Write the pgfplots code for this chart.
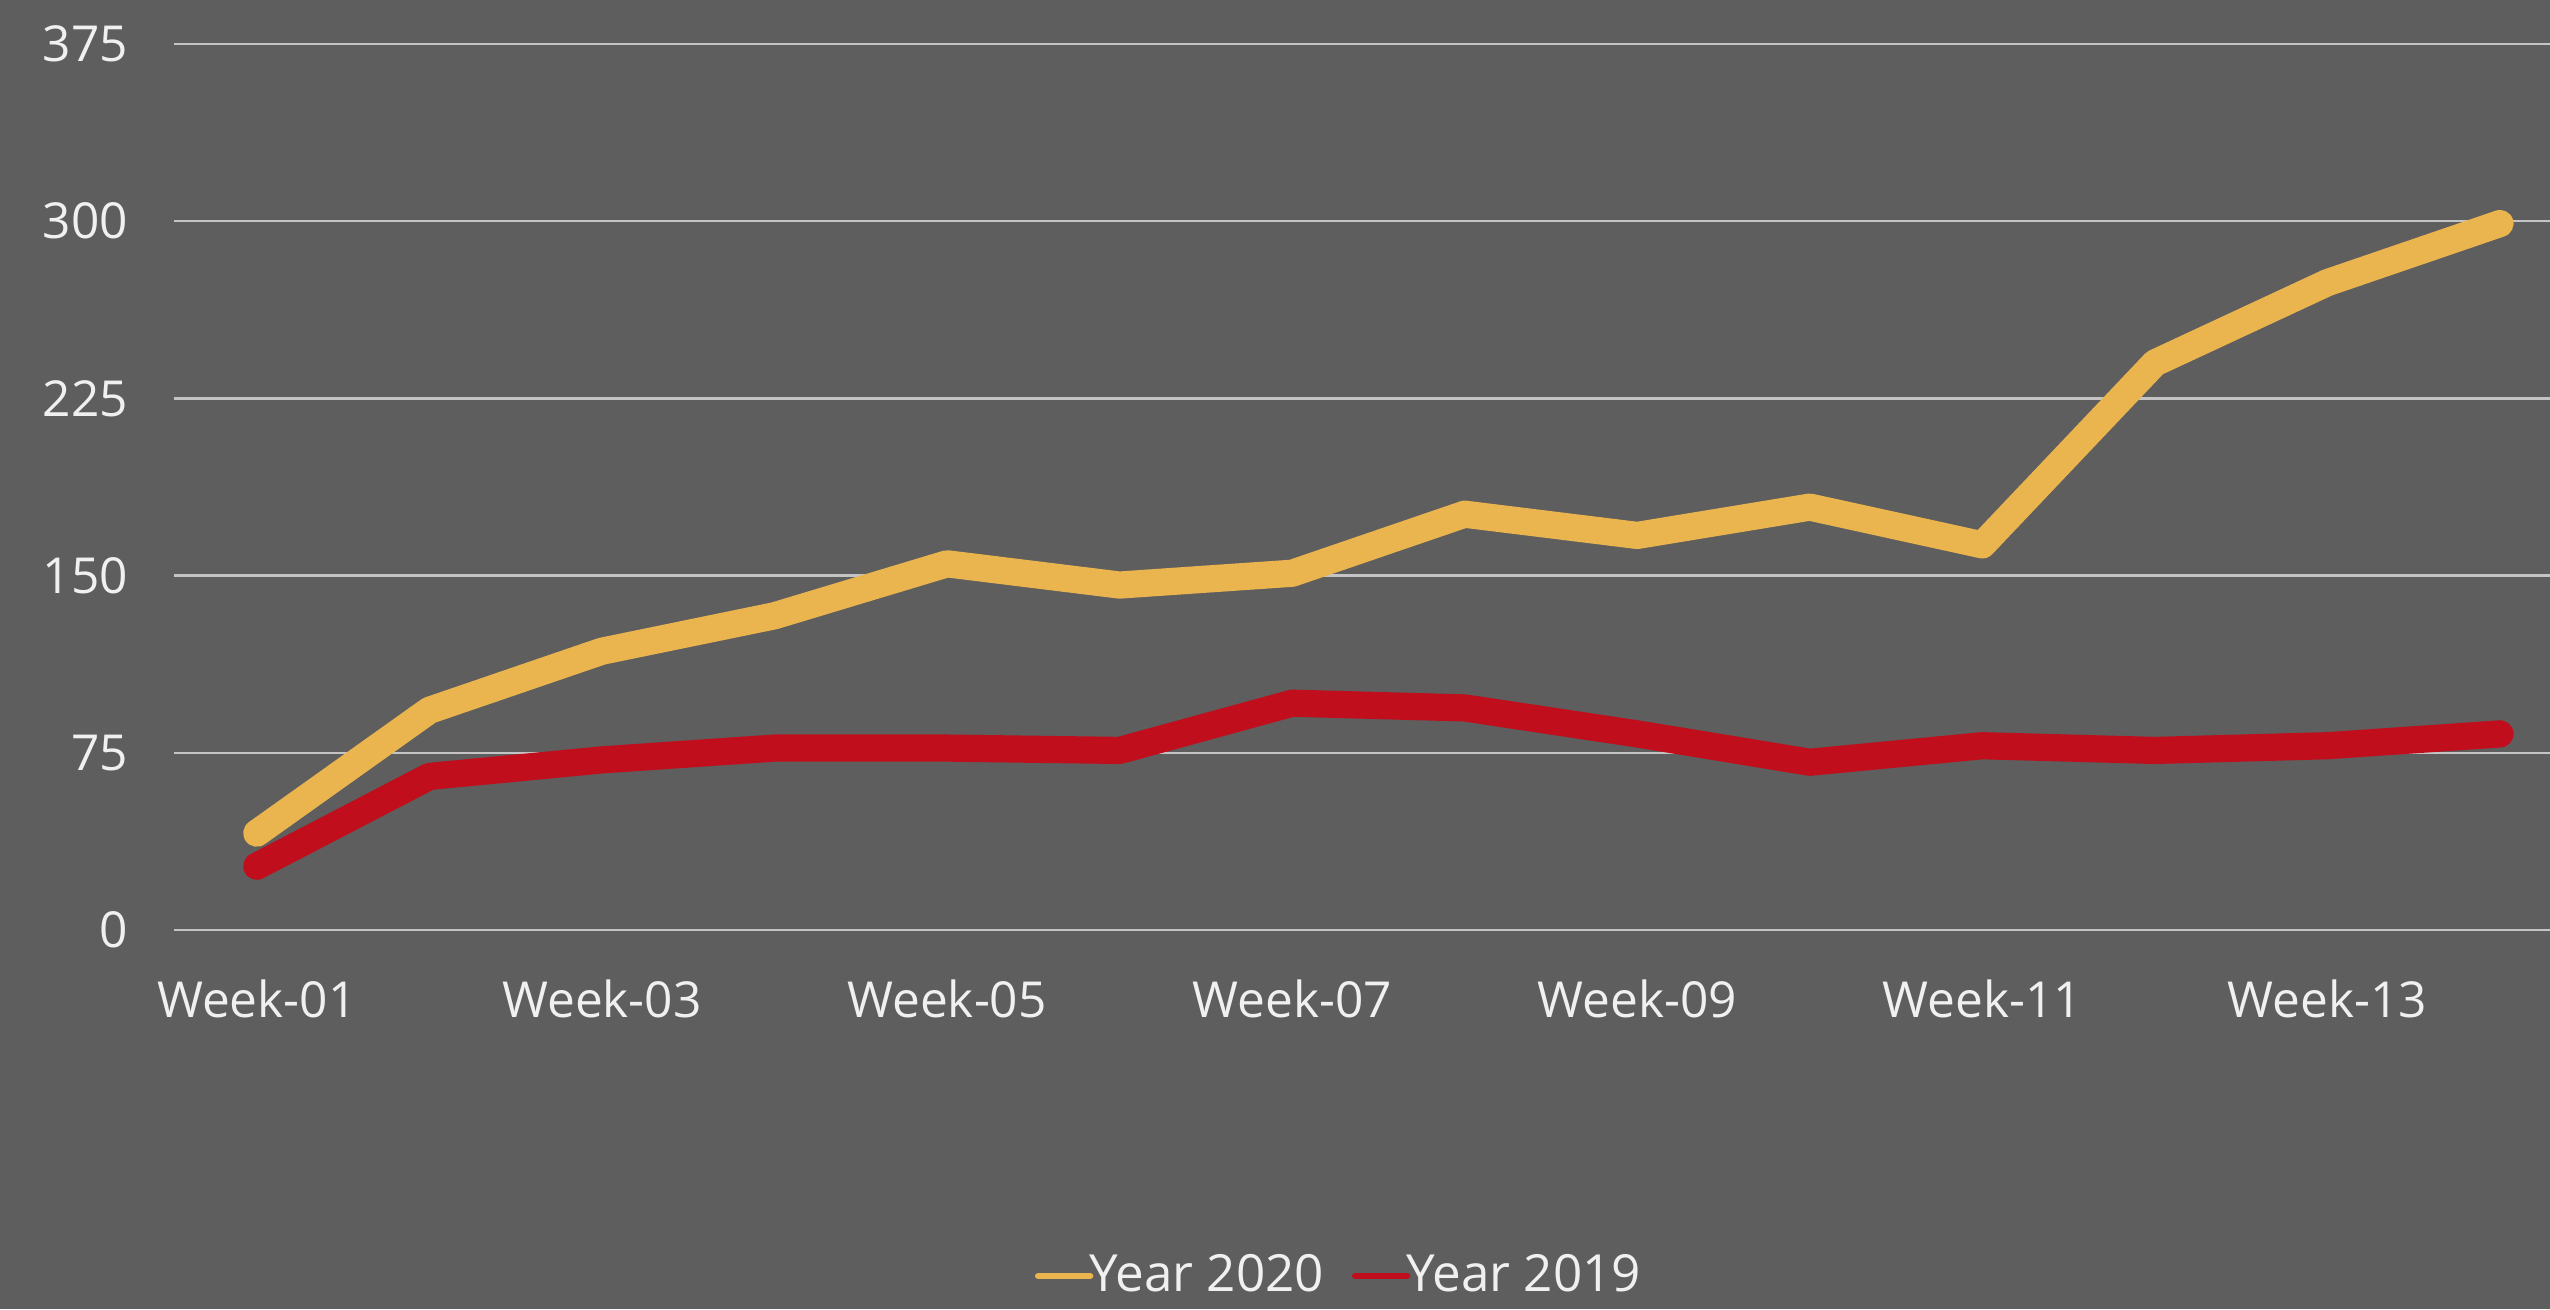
\documentclass[border=0pt]{standalone}
\usepackage{pgfplots}
\pgfplotsset{compat=1.18}
\usepackage{fontspec}
\setmainfont{Open Sans}
\definecolor{bg}{RGB}{94,94,94}
\definecolor{gridc}{RGB}{196,196,196}
\definecolor{txt}{RGB}{240,240,240}
\definecolor{yel}{RGB}{234,181,78}
\definecolor{redc}{RGB}{192,14,28}
\pgfplotstableread{
x y2020 y2019
1 41 27
2 93 65
3 118 72
4 133 77
5 155 77
6 146 76
7 151 96
8 176 94
9 167 83
10 179 71
11 163 78
12 240 76
13 274 78
14 299 83
}\datatable
\begin{document}
\begin{tikzpicture}
\fill[bg] (0,0) rectangle (637.5pt,327.25pt);
\useasboundingbox (0,0) rectangle (637.5pt,327.25pt);
\begin{axis}[
  at={(43.5pt,94.75pt)}, anchor=south west,
  scale only axis, width=594pt, height=221.5pt,
  xmin=0.52, xmax=14.29, ymin=0, ymax=375,
  ytick={0,75,150,225,300,375},
  xtick={1,3,5,7,9,11,13},
  xticklabels={Week-01,Week-03,Week-05,Week-07,Week-09,Week-11,Week-13},
  axis line style={draw=none},
  major tick length=0pt,
  ymajorgrids, grid style={gridc, line width=0.6pt},
  tick label style={font=\fontsize{12.4}{14}\selectfont, text=txt},
  /pgf/number format/assume math mode=true,
  yticklabel style={xshift=-8pt},
  xticklabel style={yshift=-9pt},
  clip=false,
  legend style={at={(0.5,0)}, anchor=center, yshift=-86.5pt, xshift=-5pt,
    draw=none, fill=none, text=txt, font=\fontsize{12.8}{14}\selectfont,
    legend columns=2, /tikz/every even column/.append style={column sep=5pt},
    inner sep=0pt},
  legend cell align=left,
  legend image code/.code={\draw[line width=1.6pt] (0pt,0pt) -- (13pt,0pt);},
]
\addplot[yel, line width=6.8pt, line cap=round, line join=round] table[x=x, y=y2020] {\datatable};
\addlegendentry{\hspace{-3pt}Year 2020}
\addplot[redc, line width=6.8pt, line cap=round, line join=round] table[x=x, y=y2019] {\datatable};
\addlegendentry{\hspace{-3pt}Year 2019}
\end{axis}
\end{tikzpicture}
\end{document}
